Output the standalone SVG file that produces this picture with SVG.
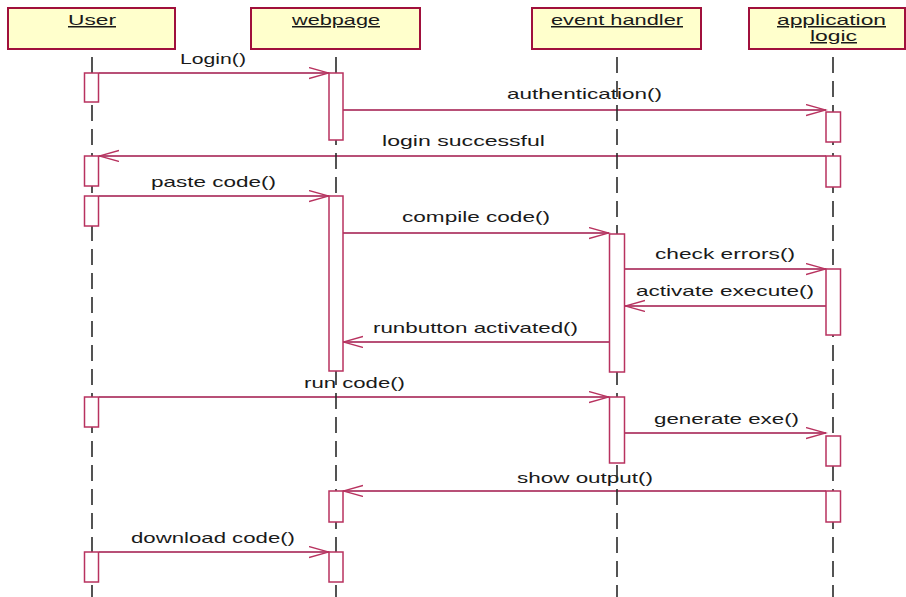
<svg xmlns="http://www.w3.org/2000/svg" width="906" height="597" viewBox="0 0 906 597">
  <style>
    .head { fill: #ffffcc; stroke: #a0103c; stroke-width: 2; }
    .title { font-family: "Liberation Sans", Arial, sans-serif; font-size: 15px; fill: #1a1a1a; text-decoration: underline; }
    .life { stroke: #2a2a2a; stroke-width: 1.6; stroke-dasharray: 16 8; fill: none; }
    .act { fill: #ffffff; stroke: #b8325f; stroke-width: 1.5; }
    .msg { stroke: #a0164a; stroke-width: 1.3; fill: none; marker-end: url(#open); }
    .lbl { font-family: "Liberation Sans", Arial, sans-serif; font-size: 15px; fill: #1a1a1a; }
  </style>
  <defs>
    <marker id="open" markerUnits="userSpaceOnUse" markerWidth="22" markerHeight="14" refX="20" refY="6" orient="auto">
      <path d="M0,0.5 L20,6 L0,11.5" fill="none" stroke="#b8325f" stroke-width="1.3"/>
    </marker>
  </defs>
  <rect width="906" height="597" fill="#ffffff"/>

  <!-- messages -->
  <g id="messages">
    <line class="msg" x1="99" y1="73" x2="329" y2="73"/>
    <text class="lbl" x="180" y="64" textLength="66" lengthAdjust="spacingAndGlyphs">Login()</text>

    <line class="msg" x1="343" y1="110" x2="826" y2="110"/>
    <text class="lbl" x="507" y="99" textLength="155" lengthAdjust="spacingAndGlyphs">authentication()</text>

    <line class="msg" x1="826" y1="156" x2="99" y2="156"/>
    <text class="lbl" x="382" y="146" textLength="163" lengthAdjust="spacingAndGlyphs">login successful</text>

    <line class="msg" x1="99" y1="196" x2="329" y2="196"/>
    <text class="lbl" x="151" y="187" textLength="125" lengthAdjust="spacingAndGlyphs">paste code()</text>

    <line class="msg" x1="343" y1="233" x2="609" y2="233"/>
    <text class="lbl" x="402" y="222" textLength="148" lengthAdjust="spacingAndGlyphs">compile code()</text>

    <line class="msg" x1="625" y1="269" x2="826" y2="269"/>
    <text class="lbl" x="655" y="259" textLength="140" lengthAdjust="spacingAndGlyphs">check errors()</text>

    <line class="msg" x1="826" y1="306" x2="625" y2="306"/>
    <text class="lbl" x="636" y="296" textLength="178" lengthAdjust="spacingAndGlyphs">activate execute()</text>

    <line class="msg" x1="609" y1="342" x2="343" y2="342"/>
    <text class="lbl" x="373" y="333" textLength="205" lengthAdjust="spacingAndGlyphs">runbutton activated()</text>

    <line class="msg" x1="99" y1="397" x2="609" y2="397"/>
    <text class="lbl" x="304" y="388" textLength="101" lengthAdjust="spacingAndGlyphs">run code()</text>

    <line class="msg" x1="625" y1="433" x2="826" y2="433"/>
    <text class="lbl" x="654" y="424" textLength="145" lengthAdjust="spacingAndGlyphs">generate exe()</text>

    <line class="msg" x1="826" y1="491" x2="343" y2="491"/>
    <text class="lbl" x="517" y="483" textLength="136" lengthAdjust="spacingAndGlyphs">show output()</text>

    <line class="msg" x1="99" y1="552" x2="329" y2="552"/>
    <text class="lbl" x="131" y="543" textLength="164" lengthAdjust="spacingAndGlyphs">download code()</text>
  </g>

  <!-- participants -->
  <g id="user">
    <rect class="head" x="8" y="8" width="167" height="41"/>
    <text class="title" x="68" y="25" textLength="48" lengthAdjust="spacingAndGlyphs">User</text>
    <line class="life" x1="92" y1="57" x2="92" y2="597"/>
    <rect class="act" x="84.5" y="73" width="14" height="29"/>
    <rect class="act" x="84.5" y="156" width="14" height="30"/>
    <rect class="act" x="84.5" y="196" width="14" height="30"/>
    <rect class="act" x="84.5" y="397" width="14" height="30"/>
    <rect class="act" x="84.5" y="552" width="14" height="30"/>
  </g>

  <g id="webpage">
    <rect class="head" x="251" y="8" width="169" height="41"/>
    <text class="title" x="292" y="25" textLength="88" lengthAdjust="spacingAndGlyphs">webpage</text>
    <line class="life" x1="336" y1="57" x2="336" y2="597"/>
    <rect class="act" x="329" y="73" width="14" height="67"/>
    <rect class="act" x="329" y="196" width="14" height="175"/>
    <rect class="act" x="329" y="491" width="14" height="31"/>
    <rect class="act" x="329" y="552" width="14" height="30"/>
  </g>

  <g id="event-handler">
    <rect class="head" x="532" y="8" width="169" height="41"/>
    <text class="title" x="551" y="25" textLength="132" lengthAdjust="spacingAndGlyphs">event handler</text>
    <line class="life" x1="617" y1="57" x2="617" y2="597"/>
    <rect class="act" x="609.5" y="234" width="15" height="138"/>
    <rect class="act" x="609.5" y="397" width="15" height="66"/>
  </g>

  <g id="application-logic">
    <rect class="head" x="749" y="8" width="156" height="41"/>
    <text class="title" x="777" y="25" textLength="109" lengthAdjust="spacingAndGlyphs">application</text>
    <text class="title" x="810" y="41" textLength="47" lengthAdjust="spacingAndGlyphs">logic</text>
    <line class="life" x1="833" y1="57" x2="833" y2="597"/>
    <rect class="act" x="826" y="112" width="14.5" height="30"/>
    <rect class="act" x="826" y="156" width="14.5" height="31"/>
    <rect class="act" x="826" y="269" width="14.5" height="66"/>
    <rect class="act" x="826" y="436" width="14.5" height="30"/>
    <rect class="act" x="826" y="491" width="14.5" height="31"/>
  </g>
</svg>
